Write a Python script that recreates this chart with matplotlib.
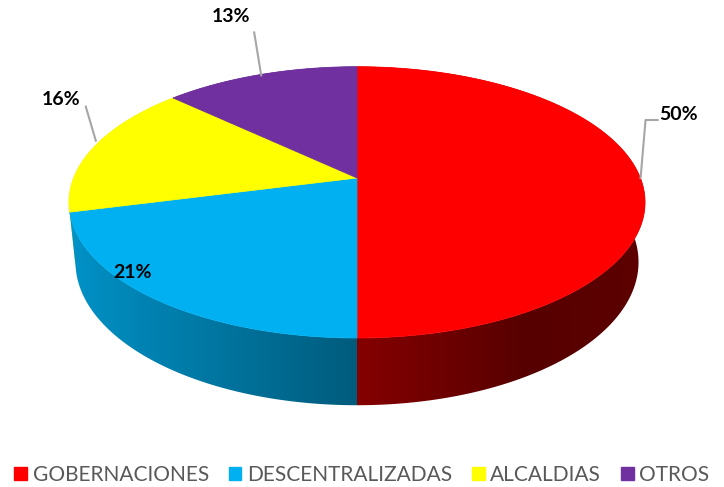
import numpy as np
import matplotlib.pyplot as plt
from matplotlib.colors import to_rgb
from matplotlib.patches import Polygon, Patch

categories = ['GOBERNACIONES', 'DESCENTRALIZADAS', 'ALCALDIAS', 'OTROS']
values = [50, 21, 16, 13]
pct_labels = ['50%', '21%', '16%', '13%']
colors = ['#FF0000', '#00B0F0', '#FFFF00', '#7030A0']

# perspective settings for the excel-like 3d pie (pixel space)
tilt = np.radians(27.6)
dist = 4.94
depth = 0.24
scale = 1400
cx, cy = 357, 178
W, H = 724, 487


def project(x, y, z):
    ca, sa = np.cos(tilt), np.sin(tilt)
    vy = y * ca + z * sa
    vz = -y * sa + z * ca + dist
    return cx + scale * x / vz, cy - scale * vy / vz


def shade(x):
    # light comes from the left, walls get darker to the right
    return np.interp(x, [-1, -0.5, 0, 0.5, 1], [0.85, 0.7, 0.52, 0.34, 0.37])


fig = plt.figure(figsize=(W / 100, H / 100), dpi=100)
ax = fig.add_axes([0, 0, 1, 1])

bounds = np.cumsum([0] + values) / sum(values) * 2 * np.pi

# screen column -> shading factor, using the near half of the rim
tn = np.linspace(np.pi / 2, 3 * np.pi / 2, 400)
sx_near, _ = project(np.sin(tn), 0, np.cos(tn))
cols = np.arange(W) + 0.5
col_shade = shade(np.interp(cols, sx_near[::-1], np.sin(tn)[::-1]))

# side walls: gradient images clipped to each slice's wall
for i in [3, 2, 0, 1]:
    rgb = np.array(to_rgb(colors[i]))
    t = np.linspace(bounds[i], bounds[i + 1], 300)
    tx, ty = project(np.sin(t), 0, np.cos(t))
    bx, by = project(np.sin(t), -depth, np.cos(t))
    wall = Polygon(list(zip(tx, ty)) + list(zip(bx[::-1], by[::-1])), closed=True,
                   transform=ax.transData)
    img = np.tile((col_shade[:, None] * rgb)[None, :, :], (2, 1, 1))
    im = ax.imshow(img, extent=[0, W, H, 0], aspect='auto', interpolation='bilinear')
    im.set_clip_path(wall)

# top face
for i, col in enumerate(colors):
    t = np.linspace(bounds[i], bounds[i + 1], 300)
    xs, ys = project(np.sin(t), 0, np.cos(t))
    pts = [project(0, 0, 0)] + list(zip(xs, ys))
    ax.add_patch(Polygon(pts, closed=True, facecolor=col, edgecolor=col, linewidth=0.5))

ax.set_xlim(0, W)
ax.set_ylim(H, 0)
ax.axis('off')

# data labels
mids = (bounds[:-1] + bounds[1:]) / 2
lab_font = dict(family='Lato', fontweight='bold', fontsize=14, color='black')
lc = '#A6A6A6'
# 50% with elbow leader
px, py = project(np.sin(mids[0]) * 0.99, 0, np.cos(mids[0]) * 0.99)
ax.plot([px + 3, px + 8, px + 20], [py, py - 58, py - 58], color=lc, lw=1.5)
ax.text(px + 22, py - 64, pct_labels[0], ha='left', va='center', **lab_font)
# 21% inside the slice
ax.text(133, 272, pct_labels[1], ha='center', va='center', **lab_font)
# 16%
px, py = project(np.sin(mids[2]) * 0.97, 0, np.cos(mids[2]) * 0.97)
ax.plot([px - 6, px - 16], [py - 7, py - 41], color=lc, lw=1.5)
ax.text(px - 41, py - 48, pct_labels[2], ha='center', va='center', **lab_font)
# 13%
px, py = project(np.sin(mids[3]) * 0.99, 0, np.cos(mids[3]) * 0.99)
ax.plot([px, px - 7], [py, py - 43], color=lc, lw=1.5)
ax.text(px - 30, py - 59, pct_labels[3], ha='center', va='center', **lab_font)

handles = [Patch(facecolor=c, edgecolor=c) for c in colors]
ax.legend(handles, categories, loc='center', bbox_to_anchor=(0.5, 12 / H), ncol=4,
          frameon=False, handlelength=0.6, handleheight=0.6, handletextpad=0.28,
          columnspacing=0.95, prop={'family': 'Lato', 'size': 15}, labelcolor='#595959')

fig.savefig('out.png', dpi=100)
